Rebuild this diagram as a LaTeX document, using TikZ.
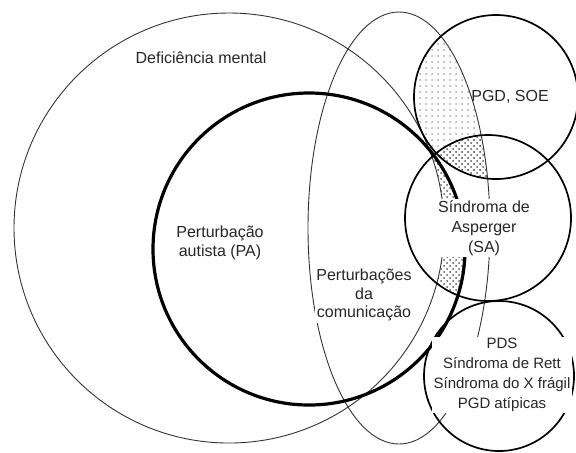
\documentclass[tikz,border=0pt]{standalone}
\usepackage{fontspec}
\setmainfont{Liberation Sans}
\usetikzlibrary{patterns}

\begin{document}
\begin{tikzpicture}[
  x=0.5pt,y=-0.5pt,
  font=\fontsize{8}{9.2}\selectfont,
  line cap=round,line join=round,
  setline/.style={draw=black!80,line width=0.45pt},
  major/.style={draw=black,line width=1.6pt},
  minor/.style={draw=black,line width=0.85pt},
  sparse/.style={pattern=dots,pattern color=black!35},
  dense/.style={pattern=crosshatch dots,pattern color=black!65},
  lbl/.style={fill=white,inner sep=0.8pt,align=center,text=black!85},
  tall/.style={font=\fontsize{8}{10}\selectfont},
  narrow/.style={font=\fontsize{7.5}{10}\selectfont}
]
\useasboundingbox (0,0) rectangle (576,452);

% centres of the sets, on the pixel grid of the figure
\coordinate (dm) at (229,228);
\coordinate (pa) at (309,249);
\coordinate (pc) at (399,228);
\coordinate (soe) at (496,97);
\coordinate (sa) at (488,218);
\coordinate (pds) at (499,376);

% stippled overlaps
\begin{scope}
  \clip (sa) circle[radius=83];
  \clip (pa) circle[radius=156];
  \fill[dense] (sa) circle[radius=83];
  \fill[white] (dm) circle[radius=215];
\end{scope}
\begin{scope}
  \clip (soe) circle[radius=82];
  \fill[sparse] (pc) ellipse[x radius=91,y radius=216];
\end{scope}
\begin{scope}
  \clip (soe) circle[radius=82];
  \clip (sa) circle[radius=83];
  \fill[dense] (pc) ellipse[x radius=91,y radius=216];
\end{scope}

% outlines
\draw[setline] (dm) circle[radius=215];
\draw[setline] (pc) ellipse[x radius=91,y radius=216];
\draw[major] (pa) circle[radius=156];
\draw[minor] (soe) circle[radius=82];
\draw[minor] (sa) circle[radius=83];
\draw[minor] (pds) circle[radius=75];

% labels
\node[lbl] (dmlabel) at (201,58) {Deficiência mental};
\node[lbl] (palabel) at (220,243) {Perturbação\\autista (PA)};
\node[lbl] (pclabel) at (364,295) {Perturbações\\da\\comunicação};
\node[lbl,fill=none] (soelabel) at (510,97) {PGD, SOE};
\node[lbl,tall] (salabel) at (484,228) {Síndroma de\\Asperger\\(SA)};
\node[lbl,narrow] (pdslabel) at (502,375) {PDS\\Síndroma de Rett\\Síndroma do X frágil\\PGD atípicas};

\end{tikzpicture}
\end{document}
